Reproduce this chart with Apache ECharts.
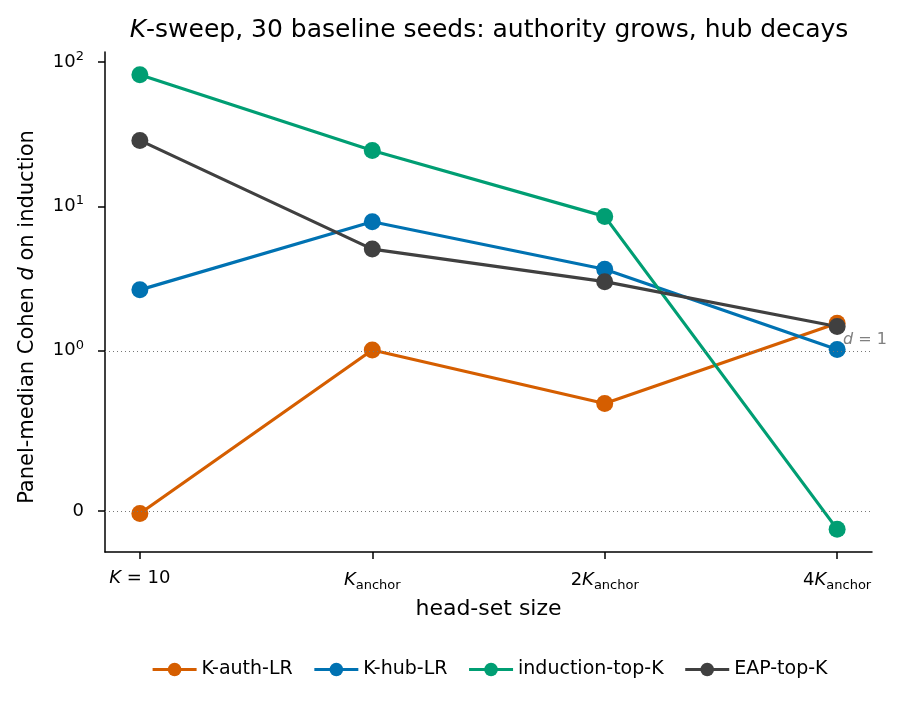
<!DOCTYPE html>
<html>
<head>
<meta charset="utf-8">
<script src="https://cdn.jsdelivr.net/npm/echarts@6/dist/echarts.min.js"></script>
<style>
  html, body { margin: 0; padding: 0; background: #fff; }
  #main { width: 905px; height: 706px; }
</style>
</head>
<body>
<div id="main"></div>
<script>
// head-set sizes (x positions 0..3)
var sizes = [0, 1, 2, 3];
var sizeLabels = ['{i|K} = 10', '{i|K}{sub|anchor}', '2{i|K}{sub|anchor}', '4{i|K}{sub|anchor}'];

// panel-median Cohen d per series
var kAuthLR = [-0.016, 1.01, 0.67, 1.55];
var kHubLR = [2.64, 7.83, 3.67, 1.02];
var inductionTopK = [81.8, 24.4, 8.53, -0.114];
var eapTopK = [28.7, 5.06, 3.01, 1.47];

var yTickValues = [0, 1, 10, 100];
var yTickLabels = ['0', '{b|10}{sup|0}', '{b|10}{sup|1}', '{b|10}{sup|2}'];

// symlog, linthresh=1, base 10 (like matplotlib)
var linScale = 1 / (1 - 1 / 10);
function symlog(v) {
  var a = Math.abs(v);
  if (a <= 1) return v * linScale;
  return Math.sign(v) * (linScale + Math.log10(a));
}

function toPoints(arr) {
  return arr.map(function (v, i) { return [sizes[i], symlog(v)]; });
}

var yTicks = yTickValues.map(symlog);

var chart = echarts.init(document.getElementById('main'), null, { renderer: 'canvas' });

function makeSeries(name, data, color) {
  return {
    name: name,
    type: 'line',
    data: toPoints(data),
    symbol: 'circle',
    symbolSize: 17,
    lineStyle: { color: color, width: 3.2 },
    itemStyle: { color: color },
    z: 3
  };
}

var font = 'DejaVu Sans';

var option = {
  animation: false,
  textStyle: { fontFamily: font },
  title: {
    text: '{i|K}-sweep, 30 baseline seeds: authority grows, hub decays',
    left: 484,
    textAlign: 'center',
    top: 13,
    textStyle: {
      fontFamily: font, fontSize: 25, fontWeight: 'normal', color: '#000',
      rich: { i: { fontFamily: font, fontSize: 25, fontStyle: 'italic', color: '#000' } }
    }
  },
  grid: { left: 105, right: 33, top: 52, bottom: 154, containLabel: false },
  legend: {
    top: 655,
    left: 146,
    itemWidth: 44,
    itemHeight: 17,
    itemGap: 20,
    lineStyle: { width: 3.2 },
    textStyle: { fontFamily: font, fontSize: 19, color: '#000' },
    data: ['K-auth-LR', 'K-hub-LR', 'induction-top-K', 'EAP-top-K']
  },
  xAxis: {
    type: 'value',
    min: -0.15,
    max: 3.15,
    name: 'head-set size',
    nameLocation: 'middle',
    nameGap: 46,
    nameTextStyle: { fontFamily: font, fontSize: 22, color: '#000' },
    axisLine: { onZero: false, lineStyle: { color: '#000', width: 1.5 } },
    axisTick: { customValues: sizes, length: 7, lineStyle: { color: '#000', width: 1.5 } },
    axisLabel: {
      customValues: sizes,
      margin: 17,
      color: '#000',
      fontSize: 18,
      formatter: function (v) { return sizeLabels[Math.round(v)]; },
      rich: {
        i: { fontFamily: font, fontStyle: 'italic', fontSize: 18, color: '#000' },
        sub: { fontFamily: font, fontSize: 13, color: '#000', padding: [10, 0, 0, 0] }
      }
    },
    splitLine: { show: false }
  },
  yAxis: {
    type: 'value',
    min: -0.285,
    max: 3.182,
    name: 'Panel-median Cohen {i|d} on induction',
    nameLocation: 'middle',
    nameGap: 67,
    nameRotate: 90,
    nameTextStyle: {
      fontFamily: font, fontSize: 21, color: '#000',
      padding: [0, 30, 0, 0],
      rich: { i: { fontFamily: font, fontStyle: 'italic', fontSize: 21, color: '#000' } }
    },
    axisLine: { show: true, onZero: false, lineStyle: { color: '#000', width: 1.5 } },
    axisTick: { show: true, customValues: yTicks, length: 7, lineStyle: { color: '#000', width: 1.5 } },
    axisLabel: {
      customValues: yTicks,
      margin: 21,
      color: '#000',
      fontSize: 18,
      formatter: function (v) {
        for (var k = 0; k < yTicks.length; k++) {
          if (Math.abs(yTicks[k] - v) < 1e-6) return yTickLabels[k];
        }
        return '';
      },
      rich: {
        b: { fontFamily: font, fontSize: 18, color: '#000' },
        sup: { fontFamily: font, fontSize: 13, color: '#000', padding: [0, 0, 11, 0] }
      }
    },
    splitLine: { show: false }
  },
  series: [
    makeSeries('K-auth-LR', kAuthLR, '#d55e00'),
    makeSeries('K-hub-LR', kHubLR, '#0072b2'),
    makeSeries('induction-top-K', inductionTopK, '#009e73'),
    makeSeries('EAP-top-K', eapTopK, '#404040'),
    {
      name: 'ref',
      type: 'line',
      data: [],
      silent: true,
      markLine: {
        symbol: 'none',
        silent: true,
        lineStyle: { color: '#777', type: [1, 3], width: 1 },
        data: [
          {
            yAxis: symlog(1),
            label: {
              show: true,
              position: 'insideEndTop',
              distance: [-15, 3],
              formatter: '{i|d} = 1',
              color: '#808080',
              fontSize: 16,
              rich: { i: { fontFamily: font, fontStyle: 'italic', fontSize: 16, color: '#808080' } }
            }
          },
          { yAxis: 0, label: { show: false } }
        ]
      },
      z: 1
    }
  ]
};

chart.setOption(option);
</script>
</body>
</html>
